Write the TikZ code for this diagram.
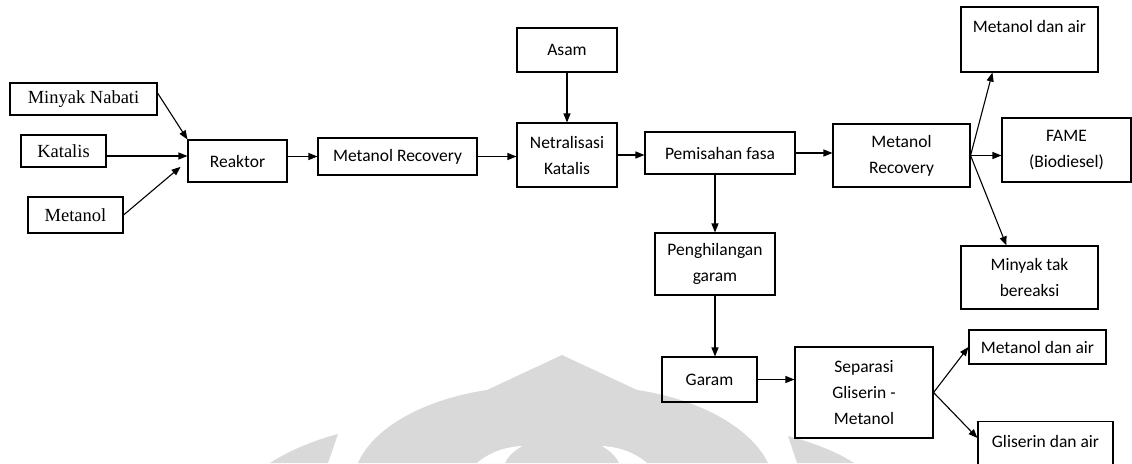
\documentclass[tikz,border=0pt]{standalone}
\usepackage{fontspec}
\setmainfont{Carlito}
\newfontfamily\serifin{Liberation Serif}
\usetikzlibrary{arrows.meta}
\definecolor{wmgray}{HTML}{D9D9D9}
\tikzset{
  box/.style={draw, line width=1.1pt, align=center, inner sep=0pt,
    font=\fontsize{17.5}{26}\selectfont},
  inbox/.style={box, font=\serifin\fontsize{18.5}{22}\selectfont},
  arr/.style={-{Triangle[length=9pt,width=7pt]}, line width=1.1pt}
}
\begin{document}
\begin{tikzpicture}[x=1pt,y=-1pt]
      \useasboundingbox (0,0) rectangle (1132,463);
      \clip (0,0) rectangle (1132,463);
      % watermark
      \fill[wmgray] (358,463) .. controls (372,430) and (420,400) .. (487,390)
        -- (562,355) -- (637,390) .. controls (704,400) and (752,430) .. (768,463) -- cycle;
      \fill[white] (477,463) .. controls (490,452) and (505,447) .. (522,446)
        .. controls (512,452) and (507,458) .. (505,463) -- cycle;
      \fill[white] (647,463) .. controls (634,452) and (619,447) .. (602,446)
        .. controls (612,452) and (617,458) .. (619,463) -- cycle;
      \fill[wmgray] (270,463) .. controls (290,450) and (315,440) .. (338,434) -- (328,463) -- cycle;
      \fill[wmgray] (854,463) .. controls (834,450) and (810,442) .. (788,436) -- (797,463) -- cycle;
      \def \Inputs{
        mn/83.5/99/147/32/Minyak Nabati,
        kat/63.5/151/85/32/Katalis,
        met/75.5/215/95/36/Metanol}
      \def \Nodes{
        reaktor/237.5/161/99/42/Reaktor,
        mr1/397.5/156.5/159/37/Metanol Recovery,
        asam/567/50/100/44/Asam,
        netr/567/155/100/64/Netralisasi\\Katalis,
        pf/720/153/150/42/Pemisahan fasa,
        mr2/901.5/155.5/137/63/Metanol\\Recovery,
        mda1/1029.5/39.5/137/65/Metanol dan air\\~,
        fame/1066.5/150/129/64/FAME\\(Biodiesel),
        mtb/1029.5/277.5/137/63/Minyak tak\\bereaksi,
        pg/715/264/120/62/Penghilangan\\garam,
        garam/709.5/379.5/95/45/Garam,
        sep/864/392.5/138/91/Separasi\\Gliserin -\\Metanol,
        mda2/1037.5/347/137/34/Metanol dan air,
        gda/1045.5/454/135/65/Gliserin dan air\\~}
      \def \Edges{
        reaktor.east |- mr1.west/mr1.west,
        mr1.east/mr1.east -| netr.west,
        asam.south/netr.north,
        netr.east/netr.east -| pf.west,
        pf.east/pf.east -| mr2.west,
        pf.south -| pg.north/pg.north,
        pg.south/pg.south |- garam.north,
        mr2.east/mr2.east -| fame.west,
        garam.east/garam.east -| sep.west,
        sep.east/mda2.west}
      \foreach \id / \x / \y / \w / \h / \txt in \Inputs{
        \node[inbox, minimum width=\w, minimum height=\h] (\id) at (\x, \y) {\txt};
      }
      \foreach \id / \x / \y / \w / \h / \txt in \Nodes{
        \node[box, minimum width=\w, minimum height=\h] (\id) at (\x, \y) {\txt};
      }
      \foreach \x / \y in \Edges{
        \path[draw,arr] (\x) -- (\y);
      }
      % slanted ones
      \path[draw,arr] ([yshift=6pt]mn.east) -- (reaktor.north west);
      \path[draw,arr] ([yshift=-5pt]kat.east) -- ([yshift=5pt]reaktor.west);
      \path[draw,arr,shorten >=9pt] (met.east) -- (reaktor.west);
      \path[draw,arr] (mr2.east) -- ([xshift=32pt]mda1.south west);
      \path[draw,arr] (mr2.east) -- ([xshift=46pt]mtb.north west);
      \path[draw,arr] (sep.east) -- ([yshift=16pt]gda.west);
    \end{tikzpicture}
\end{document}
